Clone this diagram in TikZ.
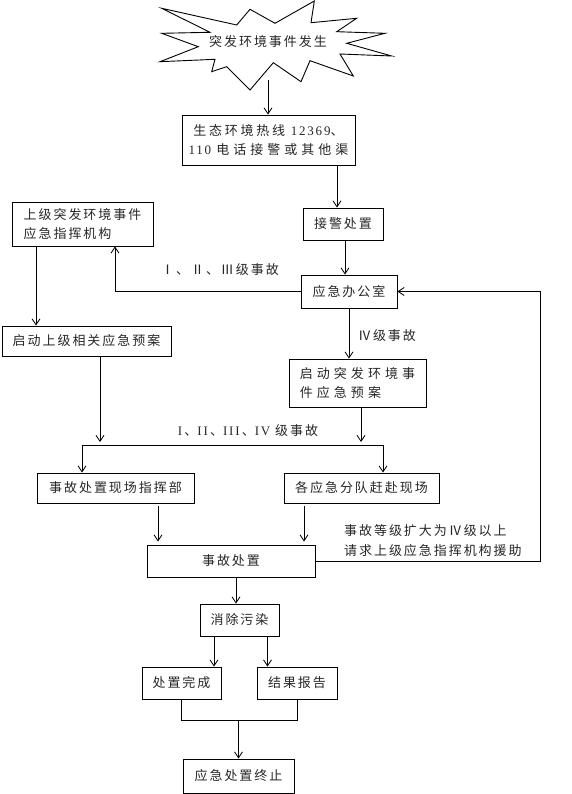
\documentclass[tikz,border=0pt]{standalone}
\usepackage{fontspec}
\setmainfont{Liberation Serif}
\newfontfamily\latw{Liberation Serif}[LetterSpace=14]
\newfontfamily\cjk{Noto Sans CJK SC}[LetterSpace=15]
\newfontfamily\cjkm{Noto Sans CJK SC}[LetterSpace=21]
\newfontfamily\cjkw{Noto Sans CJK SC}[LetterSpace=31]
\usetikzlibrary{arrows.meta,calc}
\tikzset{
  box/.style={draw, line width=0.9pt, inner sep=2pt, font=\fontsize{13}{18.5}\selectfont\cjk, text=black!85, align=center},
  arr/.style={-{Straight Barb[length=6pt,width=8pt]}, line width=0.8pt},
  ln/.style={line width=0.8pt},
  lbl/.style={font=\fontsize{13}{20}\selectfont\cjk, text=black!85, inner sep=0pt, align=left},
}
\begin{document}
\begin{tikzpicture}[x=1pt,y=-1pt]
\useasboundingbox (0,0) rectangle (572,794);
% star
\draw[line width=0.9pt, line join=miter]
 (161.7,8.3) -- (236.7,25) -- (250,9.3) -- (275,23.3) -- (314.3,1) -- (311,22.7)
 -- (356.7,18.3) -- (336.7,31.7) -- (385,33.3) -- (346.7,43.3) -- (391.7,56)
 -- (340,54) -- (353.3,76) -- (310,60.7) -- (301,81.7) -- (273.3,62.7) -- (250,90)
 -- (226.7,66.7) -- (211.7,71.7) -- (215,59.3) -- (160,61.7) -- (198.3,46.7)
 -- (161.7,33.3) -- (210,32.3) -- cycle;
\node[lbl] (star) at (268,42) {突发环境事件发生};
\coordinate (s0) at (268,80);

% boxes
\node[box, minimum width=173pt, minimum height=50pt] (b1) at (268.5,140)
  {{\cjkm 生态环境热线 }{\latw 12369}{\cjkm 、}\\{\latw 110 }{\cjkw 电话接警或其他渠}};
\node[box, minimum width=80pt, minimum height=32pt] (b2) at (343,224) {接警处置};
\node[box, minimum width=96pt, minimum height=33pt] (office) at (349,291.5) {应急办公室};
\node[box, minimum width=141pt, minimum height=44pt, align=left] (up) at (82.5,224)
  {上级突发环境事件\\应急指挥机构};
\node[box, minimum width=169pt, minimum height=30pt] (upplan) at (86.5,341) {启动上级相关应急预案};
\node[box, minimum width=137pt, minimum height=48pt, align=left, font=\fontsize{13}{19.3}\selectfont\cjkw] (plan) at (357.5,383)
  {启动突发环境事\\件应急预案};
\node[box, minimum width=157pt, minimum height=30pt] (cmd) at (115.5,488) {事故处置现场指挥部};
\node[box, minimum width=155pt, minimum height=30pt] (team) at (361.5,488) {各应急分队赶赴现场};
\node[box, minimum width=168pt, minimum height=32pt] (handle) at (231,561) {事故处置};
\node[box, minimum width=79pt, minimum height=32pt] (clean) at (239.5,620) {消除污染};
\node[box, minimum width=79pt, minimum height=32pt] (done) at (181.5,683) {处置完成};
\node[box, minimum width=80pt, minimum height=32pt] (report) at (297,683) {结果报告};
\node[box, minimum width=111pt, minimum height=34pt] (end) at (238.5,776) {应急处置终止};

% labels
\node[lbl] (l1) at (220,270) {Ⅰ、Ⅱ、Ⅲ级事故};
\node[lbl] (l2) at (387,336) {Ⅳ级事故};
\node[lbl] (l3) at (248,431) {{\latw I}\,、{\latw II}\,、{\latw III}\,、{\latw IV} 级事故};
\node[lbl, anchor=west] (l4) at (344,541) {事故等级扩大为Ⅳ级以上\\请求上级应急指挥机构援助};

% connectors
\draw[arr] (s0) -- (s0 |- b1.north);
\draw[arr] ([xshift=-6pt]b2.north |- b1.south) -- ([xshift=-6pt]b2.north);
\draw[arr] ([xshift=2pt]b2.south) -- ([xshift=2pt]b2.south |- office.north);
\draw[arr] (office.west) -| ([xshift=32.5pt]up.south);
\draw[arr] (handle.east) -- ++(225,0) |- (office.east);
\draw[arr] ([xshift=-46.5pt]up.south) -- ([xshift=-46.5pt]up.south |- upplan.north);
\draw[arr] (office.south) -- (office.south |- plan.north);

\coordinate (bus) at (0,445);
\draw[arr, shorten >=3pt] ([xshift=13.5pt]upplan.south) -- ([xshift=13.5pt]upplan.south |- bus);
\draw[arr, shorten >=3pt] ([xshift=3.5pt]plan.south) -- ([xshift=3.5pt]plan.south |- bus);
\draw[ln] ([xshift=-33.5pt]cmd.north |- bus) -- ([xshift=21.5pt]team.north |- bus);
\draw[arr] ([xshift=-33.5pt]cmd.north |- bus) -- ([xshift=-33.5pt]cmd.north);
\draw[arr] ([xshift=21.5pt]team.north |- bus) -- ([xshift=21.5pt]team.north);

\draw[arr, shorten <=3pt, shorten >=3pt] ([xshift=42.5pt]cmd.south) -- ([xshift=42.5pt]cmd.south |- handle.north);
\draw[arr, shorten <=3pt, shorten >=3pt] ([xshift=-57.5pt]team.south) -- ([xshift=-57.5pt]team.south |- handle.north);

\draw[arr] ([xshift=5pt]handle.south) -- ([xshift=5pt]handle.south |- clean.north);
\draw[arr] ([xshift=-25.5pt]clean.south) -- ([xshift=-25.5pt]clean.south |- done.north);
\draw[arr] ([xshift=28pt]clean.south) -- ([xshift=28pt]clean.south |- report.north);

\coordinate (jn) at (0,720);
\draw[ln] (done.south) -- (done.south |- jn) -- (report.south |- jn) -- (report.south);
\draw[arr] (end.north |- jn) -- (end.north);
\end{tikzpicture}
\end{document}
